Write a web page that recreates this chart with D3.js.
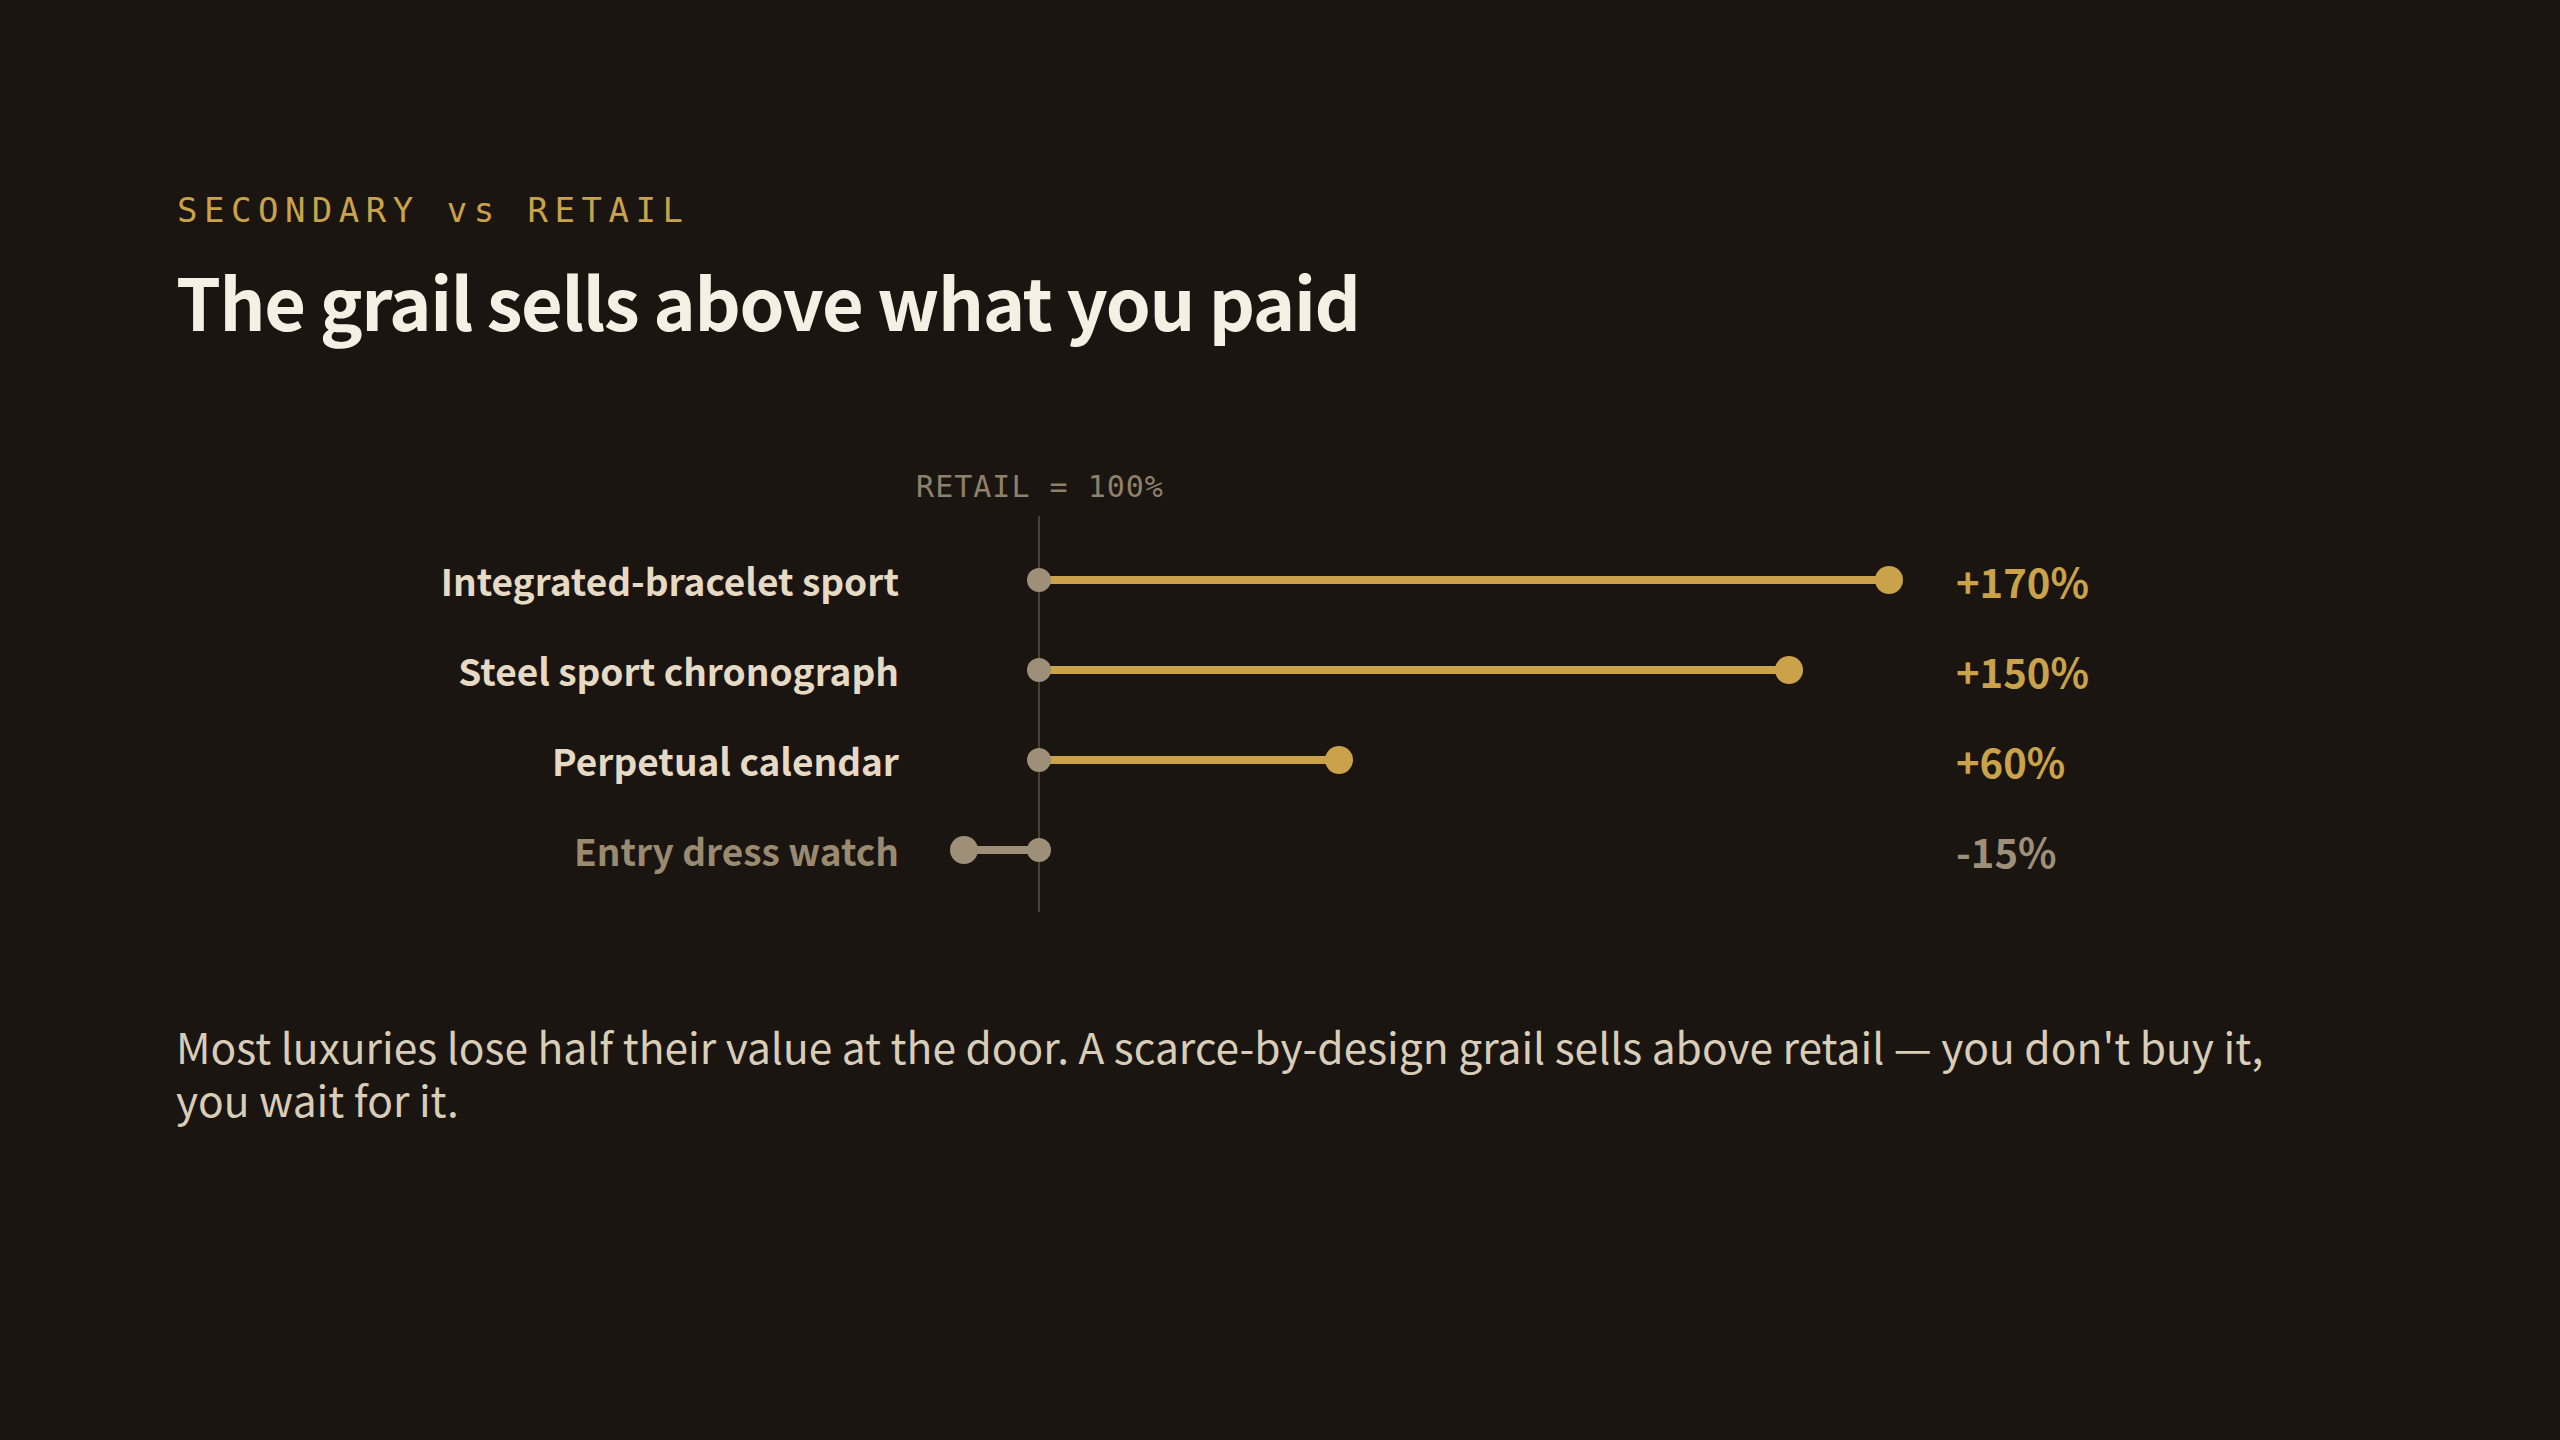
<!DOCTYPE html>
<html>
<head>
<meta charset="utf-8">
<script src="https://cdn.jsdelivr.net/npm/d3@7"></script>
<style>
  html, body { margin: 0; padding: 0; background: #1a1510; }
  svg { display: block; }
</style>
</head>
<body>
<script>
// ---- data ----
const categories = ["Integrated-bracelet sport", "Steel sport chronograph", "Perpetual calendar", "Entry dress watch"];
const premiumPct = [170, 150, 60, -15];
const valueLabels = ["+170%", "+150%", "+60%", "-15%"];
const eyebrowText = "SECONDARY vs RETAIL";
const titleText = "The grail sells above what you paid";
const axisLabel = "RETAIL = 100%";
const footerText = "Most luxuries lose half their value at the door. A scarce-by-design grail sells above retail \u2014 you don't buy it, you wait for it.";

// ---- styles ----
const W = 2560, H = 1440;
const BG = "#1a1510", GOLD = "#c9a24a", GREY = "#9e8f78", CREAM = "#e6dac4", MUTED = "#9a8a70", TITLE = "#f6f0e4";
const SANS = "'Noto Sans CJK SC', 'Source Sans Pro', 'Noto Sans', sans-serif";
const MONO = "'DejaVu Sans Mono', 'Source Code Pro', monospace";

const svg = d3.select("body").append("svg").attr("width", W).attr("height", H);
svg.append("rect").attr("width", W).attr("height", H).attr("fill", BG);

svg.append("text").attr("x", 177).attr("y", 222)
  .attr("font-family", MONO).attr("font-size", 34).attr("letter-spacing", 6.5)
  .attr("fill", GOLD).text(eyebrowText);

svg.append("text").attr("x", 176).attr("y", 331)
  .attr("font-family", SANS).attr("font-size", 72).attr("font-weight", 700)
  .attr("letter-spacing", -1.4)
  .attr("fill", TITLE).text(titleText);

// ---- scales ----
const x = d3.scaleLinear().domain([-20, 180]).range([939, 1939]);
const y = d3.scaleBand().domain(categories).range([535, 895]);
const cy = d => y(d) + y.bandwidth() / 2;

const g = svg.append("g");

// baseline axis (retail = 100%)
g.append("line")
  .attr("x1", x(0)).attr("x2", x(0))
  .attr("y1", 516).attr("y2", 912)
  .attr("stroke", "#4a3f31").attr("stroke-width", 2);

g.append("text").attr("x", x(0) + 1).attr("y", 497)
  .attr("text-anchor", "middle")
  .attr("font-family", MONO).attr("font-size", 30).attr("letter-spacing", 1)
  .attr("fill", "#8f806a").text(axisLabel);

const rows = categories.map((c, i) => ({ c, v: premiumPct[i], lab: valueLabels[i] }));

// connecting lines
g.selectAll(".stem").data(rows).join("line")
  .attr("x1", x(0)).attr("x2", d => x(d.v))
  .attr("y1", d => cy(d.c)).attr("y2", d => cy(d.c))
  .attr("stroke", d => d.v >= 0 ? GOLD : GREY)
  .attr("stroke-width", 8);

// retail dots
g.selectAll(".start").data(rows).join("circle")
  .attr("cx", x(0)).attr("cy", d => cy(d.c)).attr("r", 12)
  .attr("fill", GREY);

// secondary dots
g.selectAll(".end").data(rows).join("circle")
  .attr("cx", d => x(d.v)).attr("cy", d => cy(d.c)).attr("r", 14)
  .attr("fill", d => d.v >= 0 ? GOLD : GREY);

// category labels
g.selectAll(".cat").data(rows).join("text")
  .attr("x", 899).attr("y", d => cy(d.c) + 16)
  .attr("text-anchor", "end")
  .attr("font-family", SANS).attr("font-size", 37).attr("font-weight", 700)
  .attr("fill", d => d.v >= 0 ? CREAM : MUTED)
  .text(d => d.c);

// value labels
g.selectAll(".val").data(rows).join("text")
  .attr("x", 1956).attr("y", d => cy(d.c) + 18)
  .attr("font-family", SANS).attr("font-size", 40).attr("font-weight", 700)
  .attr("fill", d => d.v >= 0 ? GOLD : GREY)
  .text(d => d.lab);

// footer (wrapped)
const foot = svg.append("text").attr("x", 176).attr("y", 1064)
  .attr("font-family", SANS).attr("font-size", 42.5).attr("fill", "#d9cdb7");
const words = footerText.split(" ");
let line = [];
let tspan = foot.append("tspan").attr("x", 176).attr("dy", 0);
const maxW = 2120;
for (const w of words) {
  line.push(w);
  tspan.text(line.join(" "));
  if (tspan.node().getComputedTextLength() > maxW && line.length > 1) {
    line.pop();
    tspan.text(line.join(" "));
    line = [w];
    tspan = foot.append("tspan").attr("x", 176).attr("dy", 53).text(w);
  }
}
</script>
</body>
</html>
